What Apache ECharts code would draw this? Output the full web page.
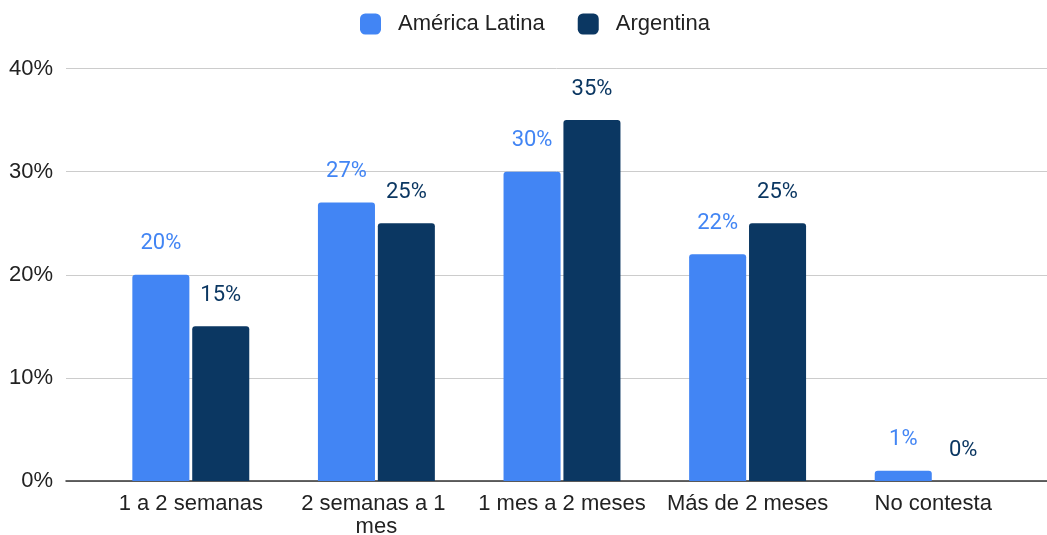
<!DOCTYPE html>
<html><head><meta charset="utf-8">
<script src="https://cdn.jsdelivr.net/npm/echarts@6/dist/echarts.min.js"></script>
<style>html,body{margin:0;padding:0;background:#fff}#c{width:1047px;height:535px}</style>
</head><body><div id="c"></div>
<script>
const categories = ['1 a 2 semanas', '2 semanas a 1 mes', '1 mes a 2 meses', 'Más de 2 meses', 'No contesta'];
const latam = [20, 27, 30, 22, 1];
const argentina = [15, 25, 35, 25, 0];
const seriesNames = ['América Latina', 'Argentina'];
const yTicks = [0, 10, 20, 30, 40];

const LIGHT = '#4285F4', DARK = '#0B3762';
const chart = echarts.init(document.getElementById('c'), null, {renderer: 'canvas'});
const labelCfg = (color) => ({
  show: true, position: 'top', distance: 20, formatter: '{c}%',
  color: color, fontFamily: 'Roboto', fontSize: 22
});
chart.setOption({
  animation: false,
  legend: {
    top: 8, left: 355, itemWidth: 21, itemHeight: 21, itemGap: 33,
    icon: 'roundRect',
    textStyle: {fontFamily: 'Liberation Sans', fontSize: 22, color: '#222', padding: [0, 0, 0, 12]},
    data: seriesNames
  },
  grid: [
    {left: 66, right: 0, top: 68.5, bottom: 54, outerBoundsMode: 'none', containLabel: false},
    {left: 98, right: 21, top: 68.5, bottom: 54, outerBoundsMode: 'none', containLabel: false}
  ],
  xAxis: [
    {gridIndex: 0, type: 'value', min: 0, max: 1, axisLabel: {show: false}, axisTick: {show: false},
     splitLine: {show: false}, axisLine: {show: true, lineStyle: {color: '#333', width: 1.5}}},
    {gridIndex: 1, type: 'category', data: categories, axisLine: {show: false}, axisTick: {show: false},
     axisLabel: {fontFamily: 'Liberation Sans', fontSize: 22, color: '#222', margin: 11,
                 width: 175, overflow: 'break', lineHeight: 23, interval: 0}}
  ],
  yAxis: [
    {gridIndex: 0, type: 'value', min: yTicks[0], max: yTicks[yTicks.length - 1], interval: 10,
     axisLine: {show: false}, axisTick: {show: false},
     axisLabel: {formatter: '{value}%', fontFamily: 'Liberation Sans', fontSize: 22, color: '#222', margin: 13},
     splitLine: {lineStyle: {color: '#cccccc', width: 1}}},
    {gridIndex: 1, type: 'value', min: yTicks[0], max: yTicks[yTicks.length - 1], interval: 10, show: false}
  ],
  series: [
    {name: seriesNames[0], type: 'bar', xAxisIndex: 1, yAxisIndex: 1, data: latam,
     itemStyle: {color: LIGHT, borderRadius: [3, 3, 0, 0]}, barGap: '5%', barCategoryGap: '37%',
     label: labelCfg(LIGHT)},
    {name: seriesNames[1], type: 'bar', xAxisIndex: 1, yAxisIndex: 1, data: argentina,
     itemStyle: {color: DARK, borderRadius: [3, 3, 0, 0]}, barGap: '5%', barCategoryGap: '37%',
     label: labelCfg(DARK)}
  ]
});
</script></body></html>
